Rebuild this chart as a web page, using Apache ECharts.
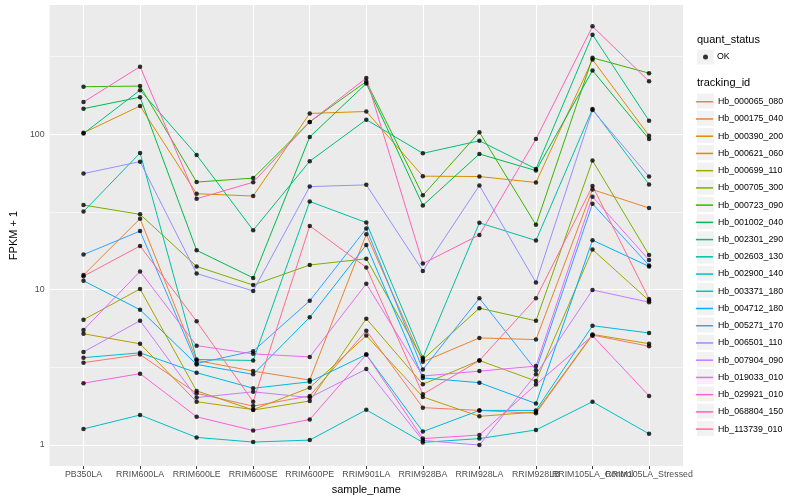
<!DOCTYPE html>
<html><head><meta charset="utf-8">
<script src="https://cdn.jsdelivr.net/npm/echarts@6/dist/echarts.min.js"></script>
<style>html,body{margin:0;padding:0;background:#fff}#c{width:800px;height:500px}</style>
</head><body><div id="c"></div>
<script>
// ---- data ----
const categories = ['PB350LA','RRIM600LA','RRIM600LE','RRIM600SE','RRIM600PE','RRIM901LA','RRIM928BA','RRIM928LA','RRIM928LB','RRIM105LA_Control','RRIM105LA_Stressed'];
const trackingIds = ['Hb_000065_080','Hb_000175_040','Hb_000390_200','Hb_000621_060','Hb_000699_110','Hb_000705_300','Hb_000723_090','Hb_001002_040','Hb_002301_290','Hb_002603_130','Hb_002900_140','Hb_003371_180','Hb_004712_180','Hb_005271_170','Hb_006501_110','Hb_007904_090','Hb_019033_010','Hb_029921_010','Hb_068804_150','Hb_113739_010'];
const Hb_000065_080 = [3.39, 3.82, 2.15, 1.78, 2.07, 5.44, 1.74, 1.67, 1.60, 5.10, 4.32];
const Hb_000175_040 = [12.4, 28.6, 3.50, 2.99, 2.62, 22.7, 3.43, 4.89, 4.77, 44.0, 33.5];
const Hb_000390_200 = [102, 152, 41.4, 40.0, 136, 140, 53.7, 53.4, 48.9, 302, 97.7];
const Hb_000621_060 = [5.20, 4.48, 1.90, 1.69, 2.34, 5.06, 2.04, 1.53, 1.63, 5.15, 4.49];
const Hb_000699_110 = [6.40, 10.1, 2.23, 1.68, 1.92, 6.50, 2.46, 3.50, 2.58, 18.1, 8.50];
const Hb_000705_300 = [35.0, 30.5, 14.1, 10.7, 14.4, 15.8, 3.55, 7.60, 6.30, 67.6, 16.7];
const Hb_000723_090 = [202, 204, 49.2, 52.2, 120, 218, 40.4, 103, 26.1, 310, 247];
const Hb_001002_040 = [146, 173, 17.9, 11.9, 96.0, 212, 34.8, 74.6, 58.3, 257, 93.0];
const Hb_002301_290 = [101, 192, 73.5, 24.1, 67.0, 124, 75.3, 90.7, 59.8, 437, 122];
const Hb_002603_130 = [31.8, 75.7, 3.55, 3.50, 36.9, 27.0, 3.64, 26.9, 20.7, 145, 47.5];
const Hb_002900_140 = [1.27, 1.56, 1.12, 1.045, 1.076, 1.685, 1.04, 1.10, 1.25, 1.90, 1.18];
const Hb_003371_180 = [3.65, 3.92, 2.92, 2.32, 2.55, 3.82, 1.22, 1.67, 1.67, 5.86, 5.26];
const Hb_004712_180 = [11.4, 7.42, 3.30, 2.85, 6.63, 19.4, 2.70, 2.52, 1.85, 20.8, 14.1];
const Hb_005271_170 = [16.8, 23.8, 3.35, 4.02, 8.47, 24.7, 3.06, 8.80, 3.03, 35.7, 14.3];
const Hb_006501_110 = [55.8, 66.6, 12.7, 9.80, 46.0, 47.2, 13.2, 46.8, 11.1, 143, 53.4];
const Hb_007904_090 = [3.97, 6.31, 2.02, 2.20, 2.02, 3.08, 1.07, 1.00, 2.85, 9.95, 8.30];
const Hb_019033_010 = [5.50, 13.1, 4.36, 3.86, 3.69, 10.9, 2.78, 2.99, 3.22, 39.6, 15.5];
const Hb_029921_010 = [2.50, 2.88, 1.52, 1.24, 1.46, 3.82, 1.10, 1.16, 2.45, 5.05, 2.07];
const Hb_068804_150 = [161, 272, 38.4, 49.1, 120, 230, 14.7, 22.5, 93.0, 494, 219];
const Hb_113739_010 = [12.2, 19.1, 6.25, 1.90, 25.7, 13.9, 2.12, 3.50, 8.80, 46.4, 8.70];
const seriesValues = [Hb_000065_080,Hb_000175_040,Hb_000390_200,Hb_000621_060,Hb_000699_110,Hb_000705_300,Hb_000723_090,Hb_001002_040,Hb_002301_290,Hb_002603_130,Hb_002900_140,Hb_003371_180,Hb_004712_180,Hb_005271_170,Hb_006501_110,Hb_007904_090,Hb_019033_010,Hb_029921_010,Hb_068804_150,Hb_113739_010];
const yTicks = [1, 10, 100];
const yMinorTicks = [3.1623, 31.623, 316.23];
const statusLabels = ['OK'];

// ---- style ----
const colors = ['#F8766D','#EA8331','#D89000','#C09B00','#A3A500','#7CAE00','#39B600','#00BB4E','#00BF7D','#00C1A3','#00BFC4','#00BAE0','#00B0F6','#35A2FF','#9590FF','#C77CFF','#E76BF3','#FA62DB','#FF62BC','#FF6C91'];
const FONT = 'Liberation Sans, Arial, Helvetica, sans-serif';
const xIdx = categories.map((c, i) => i);
// labels split over two overlaid axes so that overlapping neighbour labels are both drawn
const xIdxA = xIdx.filter(i => i % 2 === 0);
const xIdxB = xIdx.filter(i => i % 2 === 1);
const KEY_STEP = 17.23;

const lineSeries = trackingIds.map((id, k) => ({
  name: id, type: 'line', symbol: 'none', z: 2,
  data: seriesValues[k].map((v, i) => [i, v]),
  lineStyle: { width: 1, color: colors[k] }, itemStyle: { color: colors[k] },
  emphasis: { disabled: true }, animation: false
}));

const allPoints = [];
seriesValues.forEach(arr => arr.forEach((v, i) => allPoints.push([i, v])));

const gridLines = [];
yTicks.forEach(v => gridLines.push({ yAxis: v, lineStyle: { color: '#fff', width: 1.1, type: 'solid' } }));
yMinorTicks.forEach(v => gridLines.push({ yAxis: v, lineStyle: { color: '#fff', width: 0.55, type: 'solid' } }));
xIdx.forEach(i => gridLines.push({ xAxis: i, lineStyle: { color: '#fff', width: 1.1, type: 'solid' } }));

const keyBoxes = [];
keyBoxes.push({ type: 'rect', shape: { x: 697, y: 49.5, width: 17, height: 15 }, style: { fill: '#F2F2F2' }, z: 0 });
trackingIds.forEach((id, k) => {
  const cy = 101 + KEY_STEP * k;
  keyBoxes.push({ type: 'rect', shape: { x: 697, y: cy - 7.5, width: 17, height: 15 }, style: { fill: '#F2F2F2' }, z: 0 });
});

function xAxisDef(vals, withName) {
  return {
    type: 'value', min: -0.6, max: 10.6, gridIndex: 0, position: 'bottom',
    axisLine: { show: false },
    axisTick: { show: true, customValues: vals, length: 3, lineStyle: { color: '#333333', width: 1 } },
    axisLabel: { show: true, customValues: vals, formatter: v => categories[Math.round(v)], color: '#4D4D4D', fontSize: 8.8, margin: 4, hideOverlap: false, showMinLabel: true, showMaxLabel: true, fontFamily: FONT },
    splitLine: { show: false },
    name: withName ? 'sample_name' : '', nameLocation: 'middle', nameGap: 14,
    nameTextStyle: { color: '#000', fontSize: 11, fontFamily: FONT }
  };
}

const option = {
  animation: false,
  textStyle: { fontFamily: FONT },
  grid: { left: 40, right: 117, top: 5, bottom: 31, show: true, backgroundColor: '#EBEBEB', borderWidth: 0, containLabel: false },
  xAxis: [xAxisDef(xIdxA, true), xAxisDef(xIdxB, false)],
  yAxis: {
    type: 'log', logBase: 10, min: 0.732, max: 678,
    axisLine: { show: false },
    axisTick: { show: true, customValues: yTicks, length: 3, lineStyle: { color: '#333333', width: 1 } },
    axisLabel: { show: true, customValues: yTicks, color: '#4D4D4D', fontSize: 8.8, margin: 5, showMinLabel: true, showMaxLabel: true, fontFamily: FONT },
    splitLine: { show: false }, minorSplitLine: { show: false },
    name: 'FPKM + 1', nameLocation: 'middle', nameGap: 25, nameRotate: 90,
    nameTextStyle: { color: '#000', fontSize: 11, fontFamily: FONT }
  },
  legend: [
    { data: statusLabels, orient: 'vertical', left: 703, top: 51, padding: 0, itemWidth: 5, itemHeight: 5, icon: 'circle', selectedMode: false,
      textStyle: { fontSize: 8.8, color: '#000', fontFamily: FONT, padding: [0, 0, 0, 4], lineHeight: 12 } },
    { data: trackingIds, orient: 'vertical', left: 696, top: 101 - KEY_STEP / 2 + 0.75, padding: 0, itemWidth: 17, itemHeight: 1.5, itemGap: 0, icon: 'rect', selectedMode: false,
      textStyle: { fontSize: 8.8, color: '#000', fontFamily: FONT, lineHeight: KEY_STEP } }
  ],
  graphic: { elements: keyBoxes.concat([
    { type: 'text', left: 697, top: 34, style: { text: 'quant_status', fontSize: 11, fill: '#000', fontFamily: FONT } },
    { type: 'text', left: 697, top: 77.5, style: { text: 'tracking_id', fontSize: 11, fill: '#000', fontFamily: FONT } }
  ]) },
  series: lineSeries.concat([{
    name: 'OK', type: 'scatter', z: 3, symbol: 'circle', symbolSize: 4.5,
    data: allPoints, itemStyle: { color: '#000' }, emphasis: { disabled: true }, animation: false,
    markLine: { z: 1, silent: true, symbol: 'none', label: { show: false }, animation: false, data: gridLines }
  }])
};

const chart = echarts.init(document.getElementById('c'), null, { renderer: 'canvas' });
chart.setOption(option);
</script></body></html>
